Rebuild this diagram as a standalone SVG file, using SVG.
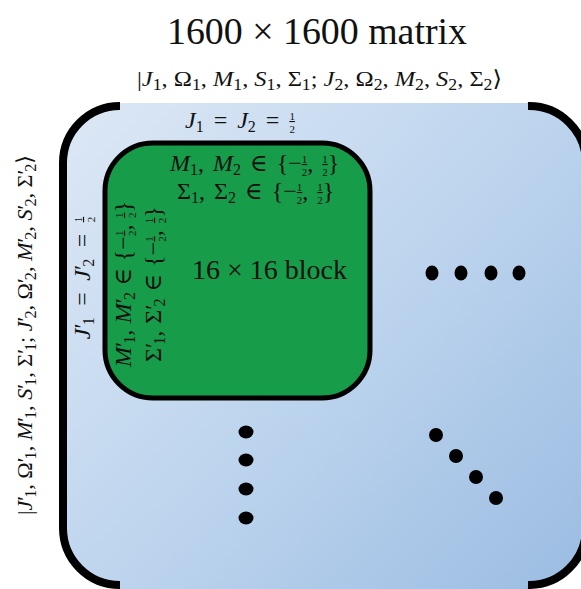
<svg xmlns="http://www.w3.org/2000/svg" width="581" height="589" viewBox="0 0 581 589">
<defs>
<linearGradient id="bg" gradientUnits="userSpaceOnUse" x1="62" y1="102" x2="581" y2="589">
<stop offset="0" stop-color="#dde8f5"/>
<stop offset="0.5" stop-color="#bed5ee"/>
<stop offset="1" stop-color="#9bbce2"/>
</linearGradient>
<style>
.t{font-family:"Liberation Serif","DejaVu Serif",serif;fill:#111}
.i{font-style:italic}
.s{font-size:16px}
.f{font-size:11px}
.u{text-decoration:underline}
.br{fill:none;stroke:#000;stroke-width:8}
.dot{fill:#000}
</style>
</defs>
<rect width="581" height="589" fill="#fff"/>
<g id="matrix">
<path fill="url(#bg)" d="M120,103 L528,103 L528,106 A57,57 0 0 1 586,163 L586,528 A57,57 0 0 1 528,585 L528,589 L120,589 L120,585 A57,57 0 0 1 63,528 L63,163 A57,57 0 0 1 120,106 Z"/>
<path class="br" d="M120,106 A57,57 0 0 0 63,163 L63,528 A57,57 0 0 0 120,585"/>
<path class="br" d="M528,106 A57,57 0 0 1 586,163 L586,528 A57,57 0 0 1 528,585"/>
</g>
<g id="title">
<text class="t" x="317" y="44" font-size="37" text-anchor="middle" textLength="300" lengthAdjust="spacingAndGlyphs">1600 × 1600 matrix</text>
</g>
<g id="col-label">
<text class="t" x="137" y="86" font-size="22" textLength="365" lengthAdjust="spacingAndGlyphs">|<tspan class="i">J</tspan><tspan class="s" dy="4">1</tspan><tspan dy="-4">, Ω</tspan><tspan class="s" dy="4">1</tspan><tspan dy="-4">, </tspan><tspan class="i">M</tspan><tspan class="s" dy="4">1</tspan><tspan dy="-4">, </tspan><tspan class="i">S</tspan><tspan class="s" dy="4">1</tspan><tspan dy="-4">, Σ</tspan><tspan class="s" dy="4">1</tspan><tspan dy="-4">; </tspan><tspan class="i">J</tspan><tspan class="s" dy="4">2</tspan><tspan dy="-4">, Ω</tspan><tspan class="s" dy="4">2</tspan><tspan dy="-4">, </tspan><tspan class="i">M</tspan><tspan class="s" dy="4">2</tspan><tspan dy="-4">, </tspan><tspan class="i">S</tspan><tspan class="s" dy="4">2</tspan><tspan dy="-4">, Σ</tspan><tspan class="s" dy="4">2</tspan><tspan dy="-4">⟩</tspan></text>
</g>
<g id="row-label">
<text class="t" transform="translate(32,335) rotate(-90)" text-anchor="middle" font-size="22" textLength="360" lengthAdjust="spacingAndGlyphs">|<tspan class="i">J</tspan>′<tspan class="s" dx="-2" dy="4">1</tspan><tspan dy="-4">, Ω</tspan>′<tspan class="s" dx="-2" dy="4">1</tspan><tspan dy="-4">, </tspan><tspan class="i">M</tspan>′<tspan class="s" dx="-2" dy="4">1</tspan><tspan dy="-4">, </tspan><tspan class="i">S</tspan>′<tspan class="s" dx="-2" dy="4">1</tspan><tspan dy="-4">, Σ</tspan>′<tspan class="s" dx="-2" dy="4">1</tspan><tspan dy="-4">; </tspan><tspan class="i">J</tspan>′<tspan class="s" dx="-2" dy="4">2</tspan><tspan dy="-4">, Ω</tspan>′<tspan class="s" dx="-2" dy="4">2</tspan><tspan dy="-4">, </tspan><tspan class="i">M</tspan>′<tspan class="s" dx="-2" dy="4">2</tspan><tspan dy="-4">, </tspan><tspan class="i">S</tspan>′<tspan class="s" dx="-2" dy="4">2</tspan><tspan dy="-4">, Σ</tspan>′<tspan class="s" dx="-2" dy="4">2</tspan><tspan dy="-4">⟩</tspan></text>
</g>
<g id="j-label">
<text class="t" x="185" y="128" font-size="24" word-spacing="4"><tspan class="i">J</tspan><tspan class="s" dy="4">1</tspan><tspan dy="-4"> = </tspan><tspan class="i">J</tspan><tspan class="s" dy="4">2</tspan><tspan dy="-4"> = </tspan><tspan class="f u" dy="-8">1</tspan><tspan class="f" dx="-5.5" dy="13">2</tspan></text>
</g>
<g id="jp-label">
<text class="t" transform="translate(90,278) rotate(-90)" text-anchor="middle" font-size="24" word-spacing="5.5"><tspan class="i">J</tspan>′<tspan class="s" dx="-2" dy="4">1</tspan><tspan dy="-4"> = </tspan><tspan class="i">J</tspan>′<tspan class="s" dx="-2" dy="4">2</tspan><tspan dy="-4"> = </tspan><tspan class="f u" dy="-8">1</tspan><tspan class="f" dx="-5.5" dy="13">2</tspan></text>
</g>
<g id="block">
<rect x="105" y="143" width="265" height="255" rx="48" fill="#179c4a" stroke="#000" stroke-width="5"/>
<text class="t" x="170" y="171" font-size="24" word-spacing="3"><tspan class="i">M</tspan><tspan class="s" dy="4">1</tspan><tspan dy="-4">, </tspan><tspan class="i">M</tspan><tspan class="s" dy="4">2</tspan><tspan dy="-4"> ∈ {−</tspan><tspan class="f u" dy="-8">1</tspan><tspan class="f" dx="-5.5" dy="13">2</tspan><tspan dy="-5">, </tspan><tspan class="f u" dy="-8">1</tspan><tspan class="f" dx="-5.5" dy="13">2</tspan><tspan dy="-5">}</tspan></text>
<text class="t" x="177" y="199" font-size="24" word-spacing="3">Σ<tspan class="s" dy="4">1</tspan><tspan dy="-4">, Σ</tspan><tspan class="s" dy="4">2</tspan><tspan dy="-4"> ∈ {−</tspan><tspan class="f u" dy="-8">1</tspan><tspan class="f" dx="-5.5" dy="13">2</tspan><tspan dy="-5">, </tspan><tspan class="f u" dy="-8">1</tspan><tspan class="f" dx="-5.5" dy="13">2</tspan><tspan dy="-5">}</tspan></text>
<text class="t" transform="translate(131,284) rotate(-90)" text-anchor="middle" font-size="24" word-spacing="0.5"><tspan class="i">M</tspan>′<tspan class="s" dx="-2" dy="4">1</tspan><tspan dy="-4">, </tspan><tspan class="i">M</tspan>′<tspan class="s" dx="-2" dy="4">2</tspan><tspan dy="-4"> ∈ {−</tspan><tspan class="f u" dy="-8">1</tspan><tspan class="f" dx="-5.5" dy="13">2</tspan><tspan dy="-5">, </tspan><tspan class="f u" dy="-8">1</tspan><tspan class="f" dx="-5.5" dy="13">2</tspan><tspan dy="-5">}</tspan></text>
<text class="t" transform="translate(161,284) rotate(-90)" text-anchor="middle" font-size="24" word-spacing="1">Σ′<tspan class="s" dx="-2" dy="4">1</tspan><tspan dy="-4">, Σ</tspan>′<tspan class="s" dx="-2" dy="4">2</tspan><tspan dy="-4"> ∈ {−</tspan><tspan class="f u" dy="-8">1</tspan><tspan class="f" dx="-5.5" dy="13">2</tspan><tspan dy="-5">, </tspan><tspan class="f u" dy="-8">1</tspan><tspan class="f" dx="-5.5" dy="13">2</tspan><tspan dy="-5">}</tspan></text>
<text class="t" x="192" y="279" font-size="27" textLength="155" lengthAdjust="spacingAndGlyphs">16 × 16 block</text>
</g>
<g id="hdots">
<ellipse class="dot" cx="432" cy="273" rx="6.5" ry="7.5"/>
<ellipse class="dot" cx="461" cy="273" rx="6.5" ry="7.5"/>
<ellipse class="dot" cx="491" cy="273" rx="6.5" ry="7.5"/>
<ellipse class="dot" cx="519" cy="273" rx="6.5" ry="7.5"/>
</g>
<g id="vdots">
<ellipse class="dot" cx="246" cy="432" rx="7.5" ry="6.5"/>
<ellipse class="dot" cx="246" cy="460" rx="7.5" ry="6.5"/>
<ellipse class="dot" cx="246" cy="489" rx="7.5" ry="6.5"/>
<ellipse class="dot" cx="246" cy="518" rx="7.5" ry="6.5"/>
</g>
<g id="ddots">
<ellipse class="dot" cx="436" cy="435" rx="7" ry="7"/>
<ellipse class="dot" cx="456" cy="456" rx="7" ry="7"/>
<ellipse class="dot" cx="476" cy="477" rx="7" ry="7"/>
<ellipse class="dot" cx="496" cy="498" rx="7" ry="7"/>
</g>
<g id="connectors"/>
</svg>
